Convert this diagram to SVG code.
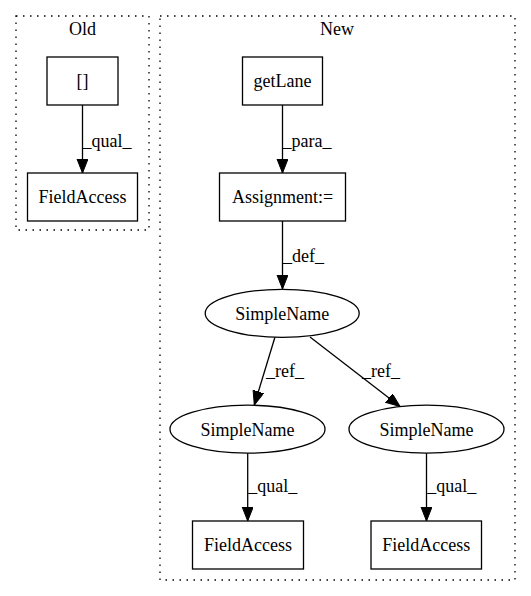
<svg xmlns="http://www.w3.org/2000/svg" width="531" height="596" viewBox="0 0 531 596">
<style>
text{font-family:"Liberation Serif","Times New Roman",serif;font-size:18px;fill:#000;text-anchor:middle}
.cl{fill:none;stroke:#000;stroke-width:1.3;stroke-dasharray:1.5,5.5}
.nd{fill:#fff;stroke:#000;stroke-width:1.3}
.ed{fill:none;stroke:#000;stroke-width:1.3;marker-end:url(#ah)}
</style>
<defs>
<marker id="ah" markerUnits="userSpaceOnUse" markerWidth="15" markerHeight="12" refX="14" refY="5.5" orient="auto">
<path d="M0,0 L14,5.5 L0,11 z" fill="#000" stroke="#000" stroke-width="1"/>
</marker>
</defs>
<rect width="531" height="596" fill="#fff"/>
<g id="cluster_old">
<rect class="cl" x="16" y="16" width="133" height="214"/>
<text x="82.5" y="35">Old</text>
</g>
<g id="cluster_new">
<rect class="cl" x="160" y="16" width="355" height="564"/>
<text x="337" y="35">New</text>
</g>
<g id="edges">
<line class="ed" x1="82.5" y1="105" x2="82.5" y2="173"/>
<text x="107" y="147">_qual_</text>
<line class="ed" x1="282.5" y1="105" x2="282.5" y2="173"/>
<text x="307" y="147">_para_</text>
<line class="ed" x1="282.5" y1="221" x2="282.5" y2="289"/>
<text x="303.5" y="262">_def_</text>
<line class="ed" x1="275" y1="337" x2="254.3" y2="405"/>
<text x="285" y="377">_ref_</text>
<line class="ed" x1="310" y1="337" x2="400" y2="406.5"/>
<text x="381" y="377">_ref_</text>
<line class="ed" x1="247.7" y1="453" x2="247.7" y2="521"/>
<text x="272.7" y="492">_qual_</text>
<line class="ed" x1="426.5" y1="453" x2="426.5" y2="521"/>
<text x="451.7" y="492">_qual_</text>
</g>
<g id="n_bracket">
<rect class="nd" x="47" y="57" width="71" height="48"/>
<text x="82.5" y="87">[]</text>
</g>
<g id="n_fieldaccess_old">
<rect class="nd" x="27.5" y="173" width="110" height="48"/>
<text x="82.5" y="203">FieldAccess</text>
</g>
<g id="n_getLane">
<rect class="nd" x="242.5" y="57" width="80" height="48"/>
<text x="282.5" y="87">getLane</text>
</g>
<g id="n_assignment">
<rect class="nd" x="219.5" y="173" width="126" height="48"/>
<text x="282.5" y="203">Assignment:=</text>
</g>
<g id="n_simplename_1">
<ellipse class="nd" cx="282.2" cy="313.3" rx="77" ry="24"/>
<text x="282.2" y="319.5">SimpleName</text>
</g>
<g id="n_simplename_2">
<ellipse class="nd" cx="247.5" cy="429.2" rx="77.5" ry="24"/>
<text x="247.5" y="435.5">SimpleName</text>
</g>
<g id="n_simplename_3">
<ellipse class="nd" cx="426.5" cy="429.2" rx="77.5" ry="24"/>
<text x="426.5" y="435.5">SimpleName</text>
</g>
<g id="n_fieldaccess_2">
<rect class="nd" x="192.5" y="521" width="111" height="48"/>
<text x="248" y="551">FieldAccess</text>
</g>
<g id="n_fieldaccess_3">
<rect class="nd" x="371" y="521" width="110.5" height="48"/>
<text x="426.2" y="551">FieldAccess</text>
</g>
</svg>
